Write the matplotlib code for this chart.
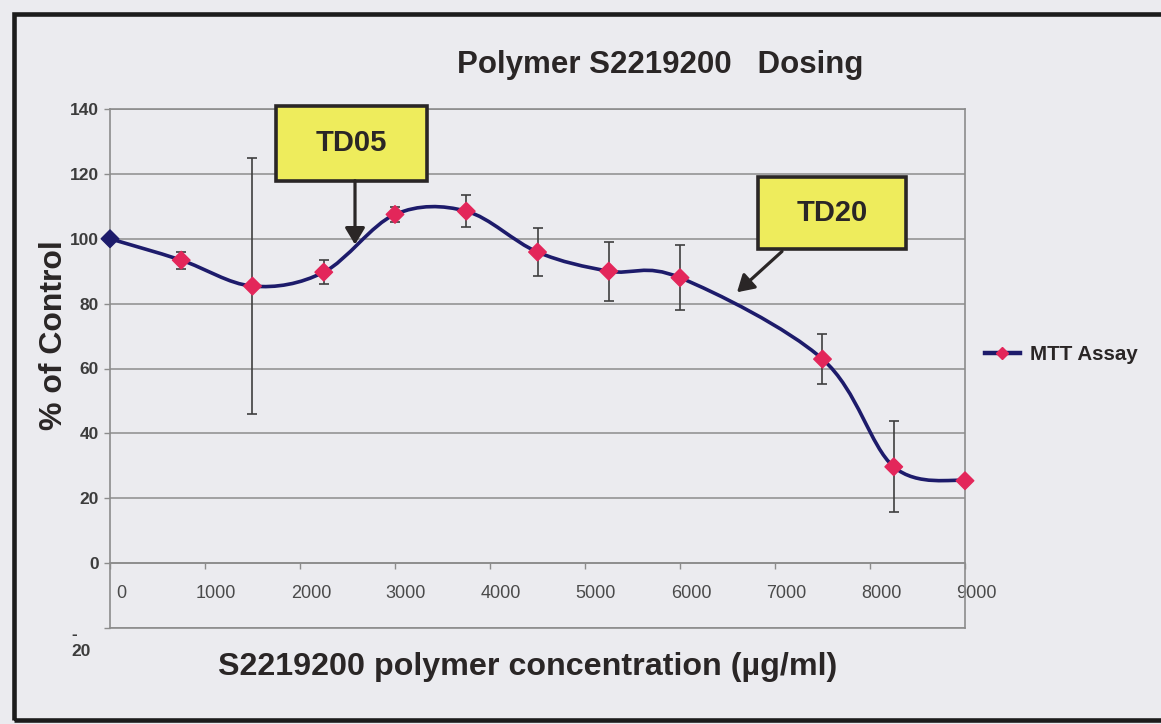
import numpy as np
import matplotlib
matplotlib.use("Agg")
import matplotlib.pyplot as plt
import matplotlib.transforms as mtransforms
from matplotlib.path import Path
from matplotlib.patches import PathPatch, Rectangle
from matplotlib.lines import Line2D

plt.rcParams['font.family'] = ['Liberation Sans', 'DejaVu Sans']

# MTT assay results, % of untreated control (mean and SD)
conc = [0, 750, 1500, 2250, 3000, 3750, 4500, 5250, 6000, 7500, 8250, 9000]
viability = [100, 93.4, 85.4, 89.7, 107.5, 108.5, 95.9, 90.0, 88.0, 62.9, 29.7, 25.4]
sd = [0, 2.6, 39.4, 3.6, 2.3, 5.0, 7.5, 9.1, 10.0, 7.7, 14.0, 0]

x_ticks = list(range(0, 10000, 1000))
y_ticks = list(range(-20, 160, 20))
y_tick_labels = ['-\n20'] + [str(v) for v in y_ticks[1:]]

LINE = '#1d1b6b'
MARK = '#e3265a'
BG = '#ebebef'
GRID = '#8c8c8c'
INK = '#2a2626'

W, H = 1161, 724


def smooth_path(xs, ys):
    # Catmull-Rom style bezier through the points (like a spreadsheet smoothed line)
    pts = np.column_stack([xs, ys]).astype(float)
    ext = np.vstack([pts[0], pts, pts[-1]])
    verts = [pts[0]]
    codes = [Path.MOVETO]
    for i in range(len(pts) - 1):
        p0, p1, p2, p3 = ext[i], ext[i + 1], ext[i + 2], ext[i + 3]
        verts += [p1 + (p2 - p0) / 6, p2 - (p3 - p1) / 6, p2]
        codes += [Path.CURVE4] * 3
    return Path(verts, codes)


fig = plt.figure(figsize=(W / 100, H / 100), dpi=100, facecolor=BG)
ax = fig.add_axes([110 / W, 1 - 628 / H, 855 / W, 519 / H])
ax.set_facecolor(BG)
ax.set_xlim(0, 9000)
ax.set_ylim(-20, 140)

for side in ['left', 'right', 'top']:
    ax.spines[side].set_color(GRID)
    ax.spines[side].set_linewidth(1.2)
ax.spines['bottom'].set_position(('data', 0))
ax.spines['bottom'].set_color(GRID)
ax.spines['bottom'].set_linewidth(1.2)
ax.axhline(-20, color=GRID, lw=1.2, clip_on=False, zorder=1)

ax.set_yticks(y_ticks)
ax.set_yticklabels(y_tick_labels)
ax.yaxis.grid(True, color=GRID, lw=1.1)
ax.set_axisbelow(True)
ax.tick_params(axis='y', direction='out', length=4, width=1, color=GRID,
               labelsize=12.5, labelcolor='#3c3c3c', pad=4)
for lbl in ax.get_yticklabels():
    lbl.set_fontweight('bold')

ax.set_xticks(x_ticks)
ax.tick_params(axis='x', direction='out', length=4, width=1, color=GRID,
               labelsize=13, labelcolor='#4a4a4a', pad=12)
shift_x = mtransforms.ScaledTranslation(11 / 100, 0, fig.dpi_scale_trans)
for lbl in ax.get_xticklabels():
    lbl.set_transform(lbl.get_transform() + shift_x)
shift_low = mtransforms.ScaledTranslation(-8 / 100, -12 / 100, fig.dpi_scale_trans)
low = ax.get_yticklabels()[0]
low.set_transform(low.get_transform() + shift_low)
low.set_multialignment('left')

# error bars
c = np.array(conc, dtype=float)
v = np.array(viability)
e = np.array(sd)
has_err = e > 0
ax.errorbar(c[has_err], v[has_err], yerr=e[has_err], fmt='none', ecolor='#3f3f3f',
            elinewidth=1.2, capsize=3.5, capthick=1.2, zorder=3)

# smoothed line and markers
ax.add_patch(PathPatch(smooth_path(conc, viability), fc='none', ec=LINE, lw=2.6, zorder=4))
marker_colors = [LINE] + [MARK] * (len(conc) - 1)
ax.scatter(conc, viability, marker='D', s=80, c=marker_colors, zorder=5, clip_on=False)

# TD05 / TD20 callouts
callouts = [
    ('TD05', (1747, 117.9), 1590, 23.1, (2579, 117.9), (2579, 98.2)),
    ('TD20', (6821, 96.7), 1558, 22.2, (7074, 96.1), (6600, 83.5)),
]
for label, corner, bw, bh, start, tip in callouts:
    ax.add_patch(Rectangle(corner, bw, bh, fc='#eeec5c', ec=INK, lw=2.6,
                           clip_on=False, zorder=6))
    ax.text(corner[0] + bw / 2, corner[1] + bh / 2, label, ha='center', va='center',
            fontsize=21, fontweight='bold', color=INK, zorder=7)
    ax.annotate('', xy=tip, xytext=start,
                arrowprops=dict(arrowstyle='-|>,head_length=0.5,head_width=0.3',
                                mutation_scale=20, lw=2.3, color=INK,
                                shrinkA=0, shrinkB=0),
                zorder=6)

# legend
handle = Line2D([], [], color=LINE, lw=3.2, marker='D', ms=6, mfc=MARK, mec=MARK)
fig.legend([handle], ['MTT Assay'], loc='center left',
           bbox_to_anchor=(985 / W, 1 - 355 / H), frameon=False, borderpad=0,
           borderaxespad=0, handlelength=1.7, handletextpad=0.5,
           prop={'size': 14.8, 'weight': 'bold'}, labelcolor=INK)

# titles
fig.text(660 / W, 1 - 73 / H, 'Polymer S2219200   Dosing', ha='center', va='baseline',
         fontsize=22.5, fontweight='bold', color=INK)
fig.text(528 / W, 1 - 675 / H, 'S2219200 polymer concentration (µg/ml)', ha='center',
         va='baseline', fontsize=23.2, fontweight='bold', color=INK)
fig.text(54 / W, 1 - 335 / H, '% of Control', rotation=90, ha='center', va='center',
         fontsize=23, fontweight='bold', color=INK)

# chart frame
fig.patches.append(Rectangle((14 / W, 1 - 720 / H), 1.2, 706 / H, transform=fig.transFigure,
                             fill=False, ec='#1c1c1c', lw=3.3))

fig.savefig('out.png', dpi=100, facecolor=BG)
